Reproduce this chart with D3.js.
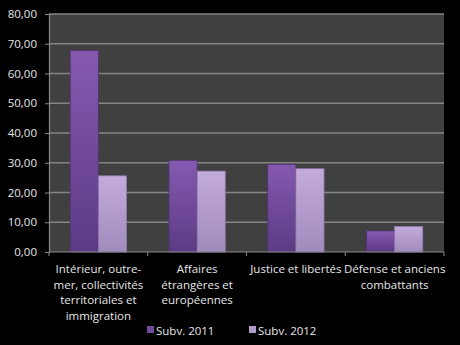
<!DOCTYPE html>
<html>
<head>
<meta charset="utf-8">
<script src="https://cdn.jsdelivr.net/npm/d3@7"></script>
<style>
  html, body { margin: 0; padding: 0; background: #000; }
  svg { display: block; }
  text { font-family: "Open Sans", "Liberation Sans", sans-serif; fill: #e6e6e6; }
</style>
</head>
<body>
<svg id="chart" width="460" height="345"></svg>
<script>
// Subventions by mission, 2011 vs 2012
const categories = [
  ["Intérieur, outre-", "mer, collectivités", "territoriales et", "immigration"],
  ["Affaires", "étrangères et", "européennes"],
  ["Justice et libertés"],
  ["Défense et anciens", "combattants"]
];
const seriesNames = ["Subv. 2011", "Subv. 2012"];
const subv2011 = [67.7, 30.8, 29.5, 7.1];
const subv2012 = [25.6, 27.2, 28.0, 8.6];
const yTicks = [0, 10, 20, 30, 40, 50, 60, 70, 80];

const svg = d3.select("#chart");
const plot = { left: 49, right: 444, top: 14, bottom: 252 };

const x = d3.scaleBand().domain(d3.range(categories.length))
  .range([plot.left, plot.right]).paddingInner(0.43).paddingOuter(0.215);
const xs = d3.scaleBand().domain([0, 1]).range([0, x.bandwidth()]);
const y = d3.scaleLinear().domain([0, 80]).range([plot.bottom, plot.top]);

const defs = svg.append("defs");
const grads = [
  ["g2011", "#8559b0", "#5c3b84"],
  ["g2012", "#c3abdb", "#a18bbd"]
];
grads.forEach(([id, top, bot]) => {
  const g = defs.append("linearGradient").attr("id", id)
    .attr("x1", 0).attr("y1", 0).attr("x2", 0).attr("y2", 1);
  g.append("stop").attr("offset", "0%").attr("stop-color", top);
  g.append("stop").attr("offset", "100%").attr("stop-color", bot);
});
const strokeCols = ["#4e3272", "#8e78aa"];
const legendCols = ["#6e4c99", "#b09cc9"];

// plot background
svg.append("rect").attr("x", plot.left).attr("y", plot.top)
  .attr("width", plot.right - plot.left).attr("height", plot.bottom - plot.top)
  .attr("fill", "#404040");

// gridlines
svg.append("g").selectAll("line").data(yTicks.filter(d => d > 0)).join("line")
  .attr("x1", plot.left).attr("x2", plot.right)
  .attr("y1", d => y(d)).attr("y2", d => y(d))
  .attr("stroke", "#858585").attr("stroke-width", 1.4);

// y axis
const yAxis = svg.append("g").attr("transform", `translate(${plot.left},0)`)
  .call(d3.axisLeft(y).tickValues(yTicks).tickSize(4).tickPadding(8)
    .tickFormat(d => d3.format(".2f")(d).replace(".", ",")));
yAxis.select(".domain").attr("stroke", "#8a8a8a").attr("stroke-width", 1.2);
yAxis.selectAll(".tick line").attr("stroke", "#8a8a8a");
yAxis.selectAll(".tick text").attr("font-size", 11.5).attr("fill", "#e6e6e6")
  .style("font-family", "'Open Sans', 'Liberation Sans', sans-serif");

// bars
const series = [subv2011, subv2012];
series.forEach((vals, si) => {
  svg.append("g").selectAll("rect").data(vals).join("rect")
    .attr("x", (d, i) => x(i) + xs(si))
    .attr("y", d => y(d))
    .attr("width", xs.bandwidth())
    .attr("height", d => y(0) - y(d))
    .attr("fill", `url(#${grads[si][0]})`)
    .attr("stroke", strokeCols[si]).attr("stroke-width", 0.8);
});

// x axis
const xb = d3.scaleLinear().domain([0, categories.length]).range([plot.left, plot.right]);
svg.append("line").attr("x1", plot.left).attr("x2", plot.right)
  .attr("y1", plot.bottom).attr("y2", plot.bottom)
  .attr("stroke", "#8a8a8a").attr("stroke-width", 1.2);
svg.append("g").selectAll("line").data(d3.range(categories.length + 1)).join("line")
  .attr("x1", d => xb(d)).attr("x2", d => xb(d))
  .attr("y1", plot.bottom).attr("y2", plot.bottom + 4)
  .attr("stroke", "#8a8a8a");

// category labels
const catG = svg.append("g");
categories.forEach((lines, i) => {
  const cx = x(i) + x.bandwidth() / 2;
  const t = catG.append("text").attr("text-anchor", "middle").attr("font-size", 11.5);
  lines.forEach((ln, k) => {
    t.append("tspan").attr("x", cx).attr("y", 273 + k * 15.7).text(ln);
  });
});

// legend
const legendX = [147, 249];
seriesNames.forEach((name, i) => {
  svg.append("rect").attr("x", legendX[i]).attr("y", 326).attr("width", 7).attr("height", 7)
    .attr("fill", legendCols[i]);
  svg.append("text").attr("x", legendX[i] + 9).attr("y", 335)
    .attr("font-size", 11.5).text(name);
});
</script>
</body>
</html>
